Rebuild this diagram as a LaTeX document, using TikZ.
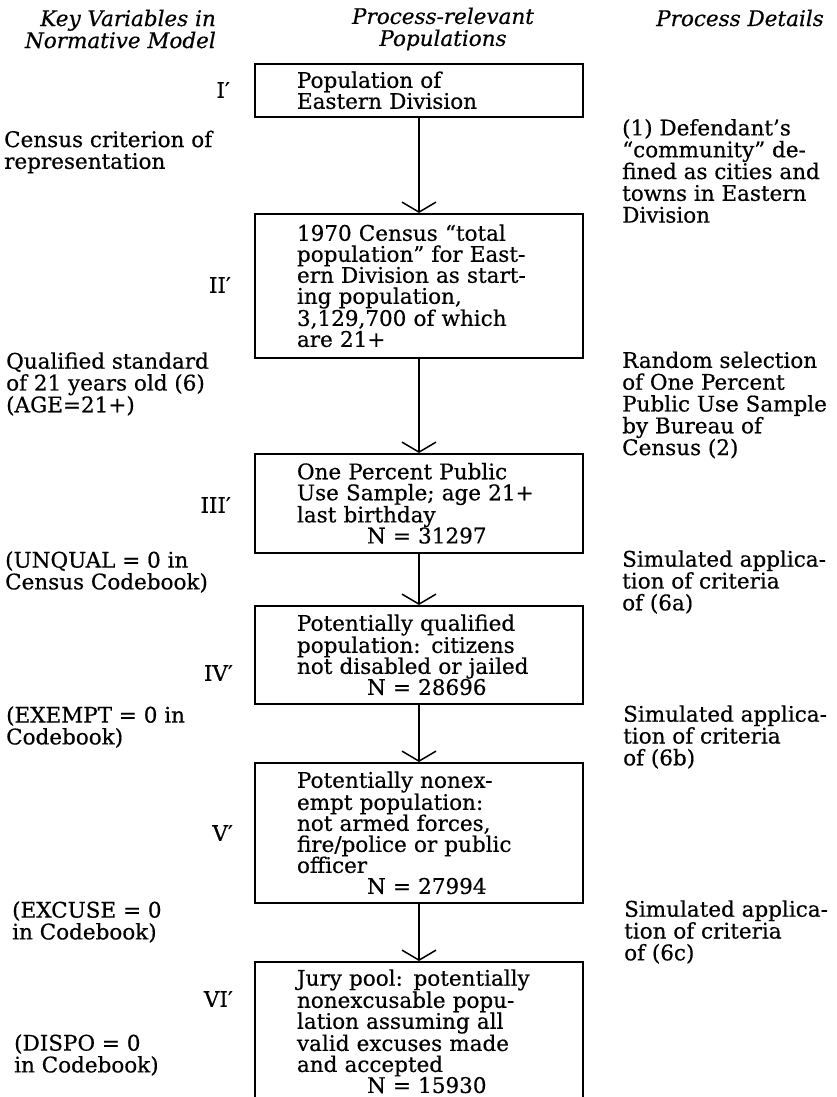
\documentclass[tikz,border=0pt]{standalone}
\usepackage{fontspec}
\setmainfont{DejaVu Serif}[FakeBold=0.5]
\usetikzlibrary{arrows.meta}
\newcommand{\Nline}[1]{\hspace*{70pt}#1}

\begin{document}
\begin{tikzpicture}[x=1pt,y=-1pt,
  popbox/.style={draw, line width=1.6pt, inner xsep=0pt, inner ysep=0pt, minimum width=328pt, text width=328pt, align=left, anchor=north, font=\fontsize{21.5}{21}\selectfont, execute at begin node={\setlength{\leftskip}{42pt}}},
  sidenote/.style={anchor=west, align=left, inner sep=0pt, font=\fontsize{21.5}{21.8}\selectfont},
  headnote/.style={inner sep=0pt, font=\fontsize{21.5}{22}\selectfont\itshape},
  stage/.style={anchor=east, inner sep=0pt, font=\fontsize{21.5}{21}\selectfont},
  flow/.style={line width=1.1pt, -{Straight Barb[length=10pt, width=34pt, line width=1.5pt]}}]
\useasboundingbox (0,0) rectangle (836,1097);

\node[headnote, align=right, anchor=east] (hkey) at (216,29) {Key Variables in\\Normative Model};
\node[headnote, align=center] (hpop) at (443,29) {Process-relevant\\Populations};
\node[headnote] (hdet) at (740,18) {Process Details};

\node[popbox, minimum height=53pt] (pI) at (419,63) {Population of\\Eastern Division};
\node[popbox, minimum height=144pt] (pII) at (419,213) {1970 Census “total\\population” for East-\\ern Division as start-\\ing population,\\3,129,700 of which\\are 21+};
\node[popbox, minimum height=99pt] (pIII) at (419,453) {One Percent Public\\Use Sample; age 21+\\last birthday\\\Nline{N = 31297}};
\node[popbox, minimum height=98pt] (pIV) at (419,605) {Potentially qualified\\population:  citizens\\not disabled or jailed\\\Nline{N = 28696}};
\node[popbox, minimum height=140pt] (pV) at (419,762) {Potentially nonex-\\empt population:\\not armed forces,\\fire/police or public\\officer\\\Nline{N = 27994}};
\node[popbox, minimum height=139pt] (pVI) at (419,961) {Jury pool:  potentially\\nonexcusable popu-\\lation assuming all\\valid excuses made\\and accepted\\\Nline{N = 15930}};

\draw[flow] (pI) -- (pII);
\draw[flow] (pII) -- (pIII);
\draw[flow] (pIII) -- (pIV);
\draw[flow] (pIV) -- (pV);
\draw[flow] (pV) -- (pVI);

\node[stage] (sI) at (230,90) {I′};
\node[stage] (sII) at (231,285) {II′};
\node[stage] (sIII) at (231,505) {III′};
\node[stage] (sIV) at (233,673) {IV′};
\node[stage] (sV) at (233,833) {V′};
\node[stage] (sVI) at (233,999) {VI′};

\node[sidenote] (kCensus) at (4,152) {Census criterion of\\representation};
\node[sidenote] (kAge) at (6,384) {Qualified standard\\of 21 years old (6)\\(AGE=21+)};
\node[sidenote] (kUnqual) at (5,572) {(UNQUAL = 0 in\\Census Codebook)};
\node[sidenote] (kExempt) at (6,727) {(EXEMPT = 0 in\\Codebook)};
\node[sidenote] (kExcuse) at (12,922) {(EXCUSE = 0\\in Codebook)};
\node[sidenote] (kDispo) at (14,1055) {(DISPO = 0\\in Codebook)};

\node[sidenote] (dCommunity) at (622,171) {(1) Defendant's\\“community” de-\\fined as cities and\\towns in Eastern\\Division};
\node[sidenote] (dSample) at (622,405) {Random selection\\of One Percent\\Public Use Sample\\by Bureau of\\Census (2)};
\node[sidenote] (dSixA) at (622,582) {Simulated applica-\\tion of criteria\\of (6a)};
\node[sidenote] (dSixB) at (623,737) {Simulated applica-\\tion of criteria\\of (6b)};
\node[sidenote] (dSixC) at (624,932) {Simulated applica-\\tion of criteria\\of (6c)};
\end{tikzpicture}
\end{document}
